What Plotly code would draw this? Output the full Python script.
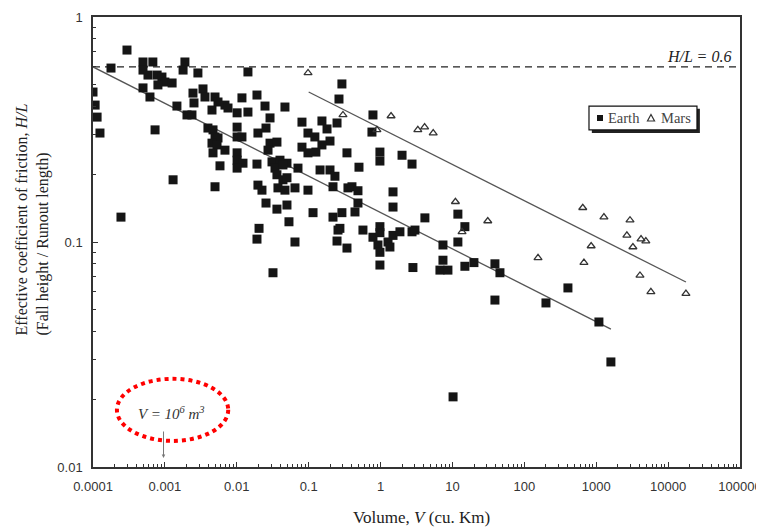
import plotly.graph_objects as go

# Earth landslides: volume (cu. km) and H/L
earth_volume = [
    2.97e-4, 1.78e-4, 1.0e-4, 1.07e-4, 1.14e-4, 1.25e-4, 2.45e-4, 4.96e-4, 4.96e-4, 6.8e-4,
    5.82e-4, 7.8e-4, 9.1e-4, 1.0e-3, 1.26e-3, 8.0e-4, 4.96e-4, 6.2e-4, 7.3e-4, 1.30e-3,
    1.90e-3, 1.79e-3, 2.88e-3, 0.0143, 2.46e-3, 3.39e-3, 3.61e-3, 2.54e-3, 1.47e-3, 2.03e-3,
    2.38e-3, 4.98e-3, 5.48e-3, 6.85e-3, 7.55e-3, 0.0101, 0.0118, 0.0143, 4.52e-3, 0.0191,
    0.0101, 3.97e-3, 4.67e-3, 4.98e-3, 5.48e-3, 4.52e-3, 5.31e-3, 6.85e-3, 4.67e-3, 0.0101,
    0.0118, 0.0101, 0.0197, 0.0247, 0.0468, 0.0101, 0.0122, 0.0101, 5.84e-3, 0.0191,
    0.0255, 0.0290, 0.0290, 0.0362, 0.0272, 0.0309, 0.0399, 0.0499, 0.0340, 0.0362,
    0.0439, 0.0374, 0.0468, 0.0645, 0.0978, 0.0710, 0.0197, 0.0224, 4.98e-3, 0.0255,
    0.0362, 0.0499, 0.0532, 0.0204, 0.0191, 0.0645, 0.0319, 0.0807, 0.0978, 0.122,
    0.153, 0.180, 0.198, 0.248, 0.0807, 0.0978, 0.126, 0.153, 0.341, 0.144,
    0.198, 0.232, 0.218, 0.352, 0.115, 0.218, 0.290, 0.272, 0.248, 0.341,
    0.290, 0.264, 0.784, 0.759, 0.501, 0.98, 0.98, 1.99, 2.74, 0.0439,
    0.0499, 0.400, 0.485, 0.485, 1.49, 1.49, 0.441, 0.256, 0.569, 0.784,
    0.98, 0.98, 0.920, 0.98, 1.27, 1.35, 1.49, 1.86, 0.98, 2.82,
    2.74, 3.01, 4.14, 11.9, 14.9, 11.9, 7.38, 7.38, 6.70, 8.65,
    14.9, 19.9, 39.0, 45.8, 39.0, 200, 404, 1090, 1600, 10.2,
]
earth_hl = [
    0.713, 0.593, 0.464, 0.406, 0.359, 0.305, 0.129, 0.631, 0.581, 0.631,
    0.552, 0.552, 0.541, 0.514, 0.509, 0.499, 0.484, 0.441, 0.315, 0.189,
    0.631, 0.581, 0.564, 0.570, 0.459, 0.479, 0.441, 0.415, 0.402, 0.367,
    0.367, 0.441, 0.419, 0.406, 0.394, 0.375, 0.437, 0.378, 0.386, 0.450,
    0.324, 0.321, 0.315, 0.293, 0.290, 0.275, 0.270, 0.256, 0.249, 0.293,
    0.293, 0.249, 0.305, 0.402, 0.398, 0.231, 0.224, 0.213, 0.218, 0.222,
    0.321, 0.356, 0.275, 0.278, 0.256, 0.227, 0.231, 0.224, 0.213, 0.199,
    0.189, 0.174, 0.170, 0.174, 0.170, 0.213, 0.179, 0.170, 0.176, 0.149,
    0.140, 0.146, 0.123, 0.115, 0.103, 0.100, 0.073, 0.341, 0.305, 0.293,
    0.345, 0.318, 0.281, 0.338, 0.264, 0.249, 0.251, 0.270, 0.249, 0.209,
    0.209, 0.196, 0.176, 0.174, 0.135, 0.129, 0.135, 0.115, 0.101, 0.094,
    0.504, 0.432, 0.367, 0.308, 0.215, 0.251, 0.229, 0.243, 0.222, 0.220,
    0.193, 0.176, 0.169, 0.149, 0.167, 0.143, 0.136, 0.113, 0.113, 0.105,
    0.117, 0.110, 0.097, 0.090, 0.100, 0.095, 0.107, 0.111, 0.079, 0.077,
    0.111, 0.113, 0.128, 0.133, 0.117, 0.100, 0.097, 0.083, 0.075, 0.075,
    0.078, 0.081, 0.080, 0.073, 0.0552, 0.0536, 0.0625, 0.0441, 0.0293, 0.0205,
]

# Mars landslides
mars_volume = [0.098, 0.30, 0.89, 1.4, 3.3, 4.1, 5.4, 11, 13.6, 31, 155, 650, 1280,
               2950, 2670, 4200, 4900, 3240, 850, 675, 4060, 5760, 17700]
mars_hl = [0.564, 0.367, 0.315, 0.363, 0.315, 0.324, 0.305, 0.151, 0.111, 0.124, 0.085,
           0.142, 0.129, 0.125, 0.107, 0.103, 0.101, 0.095, 0.096, 0.081, 0.071, 0.060, 0.059]

# Trend lines (end points) and reference level
earth_fit_v = [1e-4, 1600]
earth_fit_hl = [0.60, 0.041]
mars_fit_v = [0.1, 17700]
mars_fit_hl = [0.464, 0.0664]
ref_v = [1e-4, 1e5]
ref_hl = [0.6, 0.6]

x_tickvals = [1e-4, 1e-3, 1e-2, 1e-1, 1, 10, 100, 1000, 1e4, 1e5]
x_ticktext = ["0.0001", "0.001", "0.01", "0.1", "1", "10", "100", "1000", "10000", "100000"]
y_tickvals = [0.01, 0.1, 1]
y_ticktext = ["0.01", "0.1", "1"]

SERIF = "Liberation Serif, Times New Roman, serif"
SANS = "Liberation Sans, Arial, sans-serif"

fig = go.Figure()
fig.add_trace(go.Scatter(x=ref_v, y=ref_hl, mode="lines", showlegend=False,
                         line=dict(color="#222", width=1.3, dash="7px,5px"), hoverinfo="skip"))
fig.add_trace(go.Scatter(x=earth_fit_v, y=earth_fit_hl, mode="lines", showlegend=False,
                         line=dict(color="#555", width=1.3), hoverinfo="skip"))
fig.add_trace(go.Scatter(x=mars_fit_v, y=mars_fit_hl, mode="lines", showlegend=False,
                         line=dict(color="#555", width=1.3), hoverinfo="skip"))
fig.add_trace(go.Scatter(x=earth_volume, y=earth_hl, mode="markers", name="Earth", showlegend=False,
                         marker=dict(symbol="square", size=9, color="#151515")))
fig.add_trace(go.Scatter(x=mars_volume, y=mars_hl, mode="markers", name="Mars", showlegend=False,
                         marker=dict(symbol="triangle-up-open", size=7, color="#333",
                                     line=dict(width=1.3, color="#333"))))

fig.update_xaxes(type="log", range=[-4, 5], tickvals=x_tickvals, ticktext=x_ticktext,
                 automargin=False,
                 ticks="inside", ticklen=5, tickcolor="#333", showgrid=False, zeroline=False,
                 showline=True, linecolor="#333", linewidth=1.5, mirror=True,
                 tickfont=dict(family=SANS, size=13, color="#333"), ticklabelstandoff=7,
                 minor=dict(ticks="inside", ticklen=3, tickcolor="#333", dtick="D1", showgrid=False))
fig.update_yaxes(type="log", range=[-2, 0], tickvals=y_tickvals, ticktext=y_ticktext,
                 automargin=False,
                 ticks="inside", ticklen=5, tickcolor="#333", showgrid=False, zeroline=False,
                 showline=True, linecolor="#333", linewidth=1.5, mirror=True,
                 tickfont=dict(family=SANS, size=13, color="#333"), ticklabelstandoff=6,
                 minor=dict(ticks="inside", ticklen=3, tickcolor="#333", dtick="D1", showgrid=False))

fig.add_annotation(xref="paper", yref="paper", x=0.508, y=-0.113, showarrow=False,
                   text="Volume, <i>V</i> (cu. Km)", font=dict(family=SERIF, size=17, color="#222"),
                   yanchor="middle")
fig.add_annotation(xref="paper", yref="paper", x=-0.126, y=0.55, showarrow=False, textangle=-90,
                   align="left",
                   text="Effective coefficient of friction, <i>H/L</i><br>(Fall height / Runout length)",
                   font=dict(family=SERIF, size=16, color="#222"))
fig.add_annotation(xref="paper", yref="paper", x=0.989, y=0.913, showarrow=False,
                   xanchor="right", yanchor="middle", text="<i>H/L = 0.6</i>",
                   font=dict(family=SERIF, size=16, color="#222"))

# V = 10^6 m^3 callout
fig.add_shape(type="circle", xref="paper", yref="paper", x0=0.037, x1=0.209, y0=0.058, y1=0.196,
              line=dict(color="red", width=4, dash="dot"))
fig.add_annotation(xref="paper", yref="paper", x=0.122, y=0.12, showarrow=False,
                   xanchor="center", yanchor="middle",
                   text="<i>V = 10<sup>6</sup> m<sup>3</sup></i>",
                   font=dict(family=SERIF, size=15, color="#333"))
fig.add_annotation(xref="paper", yref="paper", x=0.109, y=0.02, text="", showarrow=True,
                   ax=0, ay=-28, arrowhead=2, arrowsize=0.7, arrowwidth=1, arrowcolor="#777")

# legend box (drawn as shapes + text)
fig.add_shape(type="rect", xref="paper", yref="paper", x0=0.771, x1=0.938, y0=0.742, y1=0.796,
              fillcolor="#222", line=dict(width=0), layer="above")
fig.add_shape(type="rect", xref="paper", yref="paper", x0=0.7666, x1=0.9335, y0=0.749, y1=0.802,
              fillcolor="white", line=dict(color="#111", width=1.2), layer="above")
fig.add_shape(type="rect", xref="paper", yref="paper", x0=0.7790, x1=0.7883, y0=0.7689, y1=0.7822,
              fillcolor="#151515", line=dict(width=0), layer="above")
fig.add_shape(type="path", xref="paper", yref="paper",
              path="M 0.8624 0.7833 L 0.8570 0.7689 L 0.8679 0.7689 Z",
              fillcolor="white", line=dict(color="#333", width=1.2), layer="above")
fig.add_annotation(xref="paper", yref="paper", x=0.7929, y=0.7756, xanchor="left", yanchor="middle",
                   showarrow=False, text="Earth", font=dict(family=SERIF, size=14.5, color="#444"))
fig.add_annotation(xref="paper", yref="paper", x=0.8748, y=0.7756, xanchor="left", yanchor="middle",
                   showarrow=False, text="Mars", font=dict(family=SERIF, size=14.5, color="#444"))

fig.update_layout(
    width=756, height=521,
    margin=dict(l=85, r=24, t=9, b=62),
    paper_bgcolor="white", plot_bgcolor="white",
    showlegend=False,
)

fig.write_html("out.html")
